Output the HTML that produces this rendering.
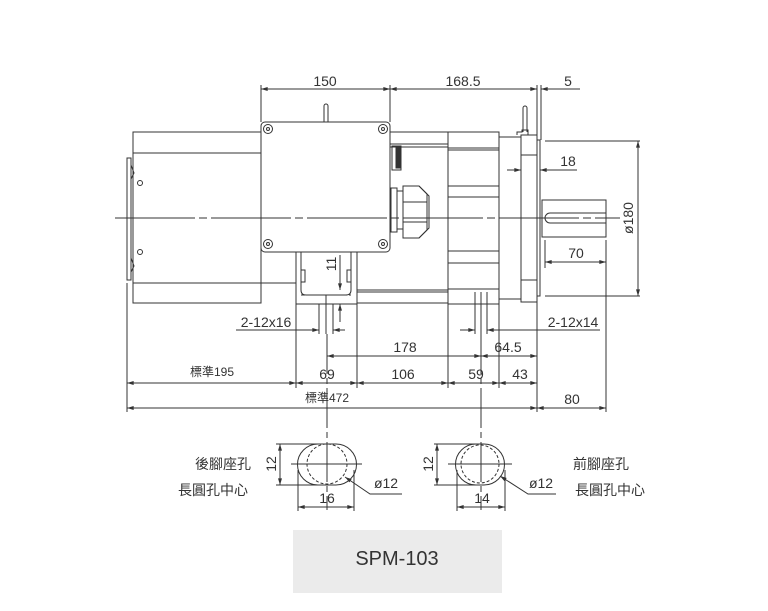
<!DOCTYPE html>
<html><head><meta charset="utf-8"><style>
html,body{margin:0;padding:0;background:#fff;}
svg{display:block;}
text{font-family:"Liberation Sans","Noto Sans CJK TC",sans-serif;fill:#333;}
</style></head><body>
<svg width="768" height="611" viewBox="0 0 768 611" xmlns="http://www.w3.org/2000/svg">
<defs>
<marker id="a" viewBox="0 0 10 6" refX="10" refY="3" markerWidth="7" markerHeight="4" orient="auto-start-reverse"><path d="M0,0L10,3L0,6z" fill="#333"/></marker>
</defs>
<g stroke="#333" stroke-width="1" fill="none">
<rect x="133" y="132" width="128" height="171"/>
<line x1="133" y1="153" x2="261" y2="153"/>
<line x1="133" y1="283" x2="296" y2="283"/>
<rect x="127" y="158" width="4" height="122"/>
<path d="M131,165 l3,8 l-3,6 M131,258 l3,8 l-3,6"/>
<circle cx="140" cy="183" r="2.5"/><circle cx="140" cy="252" r="2.5"/>
<line x1="390" y1="132" x2="448" y2="132"/><line x1="357" y1="303" x2="448" y2="303"/>
<line x1="357" y1="290" x2="448" y2="290"/><line x1="357" y1="292" x2="448" y2="292"/>
<line x1="390" y1="144" x2="448" y2="144"/><line x1="390" y1="147" x2="448" y2="147"/>
<rect x="261" y="122" width="129" height="130" rx="4" fill="#fff"/>
<g><circle cx="268" cy="129" r="4.5"/><circle cx="268" cy="129" r="1.5"/>
<circle cx="383" cy="129" r="4.5"/><circle cx="383" cy="129" r="1.5"/>
<circle cx="268" cy="244" r="4.5"/><circle cx="268" cy="244" r="1.5"/>
<circle cx="383" cy="244" r="4.5"/><circle cx="383" cy="244" r="1.5"/></g>
<path d="M324,122 V106 a2,2 0 0 1 4,0 V122"/>
<rect x="392" y="146" width="9" height="24"/>
<rect x="396" y="148" width="5" height="20" fill="#333"/>
<rect x="391" y="188" width="6" height="44"/>
<rect x="397" y="191" width="6" height="38"/>
<path d="M403,186 h16 l8,8 v36 l-8,8 h-16z"/>
<path d="M419,186 l10,10 v32 l-10,10"/>
<line x1="403" y1="202" x2="427" y2="202"/><line x1="403" y1="222" x2="427" y2="222"/>
<rect x="296" y="252" width="61" height="52"/>
<path d="M301,252 v38 q0,5 5,5 h40 q5,0 5,-5 v-38"/>
<path d="M301,270 h4 v12 h-4 M351,270 h-4 v12 h4"/>
<line x1="301" y1="295" x2="351" y2="295" stroke-dasharray="4 2"/>
<rect x="448" y="132" width="51" height="172"/>
<line x1="448" y1="148" x2="499" y2="148"/><line x1="448" y1="150" x2="499" y2="150"/>
<line x1="448" y1="186" x2="499" y2="186"/><line x1="448" y1="197" x2="499" y2="197"/>
<line x1="448" y1="251" x2="499" y2="251"/><line x1="448" y1="263" x2="499" y2="263"/>
<line x1="448" y1="289" x2="499" y2="289"/>
<rect x="499" y="137" width="22" height="162"/>
<rect x="521" y="135" width="16" height="167"/>
<line x1="521" y1="155" x2="537" y2="155"/><line x1="521" y1="280" x2="537" y2="280"/>
<rect x="537" y="140" width="3" height="156"/>
<path d="M517,135 v-3 h5 v-2 h6 v5"/>
<path d="M523,132 V108 a2,2 0 0 1 4,0 V132"/>
<rect x="542" y="200" width="64" height="37"/>
<path d="M606,213 H550 a5,5 0 0 0 0,10 H606"/>
<path d="M115,218 H620" stroke-dasharray="80 4 8 4"/>
<line x1="261" y1="85" x2="261" y2="122"/><line x1="390" y1="85" x2="390" y2="122"/>
<line x1="537" y1="85" x2="537" y2="135"/><line x1="541" y1="85" x2="541" y2="140"/>
<line x1="261" y1="89" x2="390" y2="89" marker-start="url(#a)" marker-end="url(#a)"/>
<line x1="390" y1="89" x2="537" y2="89" marker-start="url(#a)" marker-end="url(#a)"/>
<line x1="541" y1="89" x2="580" y2="89" marker-start="url(#a)"/>
<line x1="507" y1="170" x2="521" y2="170" marker-end="url(#a)"/>
<line x1="540" y1="170" x2="577" y2="170" marker-start="url(#a)"/>
<line x1="545" y1="141" x2="640" y2="141"/><line x1="545" y1="296" x2="640" y2="296"/>
<line x1="638" y1="141" x2="638" y2="296" marker-start="url(#a)" marker-end="url(#a)"/>
<line x1="545" y1="240" x2="545" y2="268"/><line x1="606" y1="240" x2="606" y2="412"/>
<line x1="545" y1="262" x2="606" y2="262" marker-start="url(#a)" marker-end="url(#a)"/>
<line x1="340" y1="255" x2="340" y2="290" marker-end="url(#a)"/>
<line x1="340" y1="304" x2="340" y2="322" marker-start="url(#a)"/>
<line x1="127" y1="283" x2="127" y2="412"/>
<line x1="296" y1="304" x2="296" y2="388"/><line x1="357" y1="304" x2="357" y2="388"/>
<line x1="319" y1="304" x2="319" y2="334"/><line x1="333" y1="304" x2="333" y2="334"/>
<line x1="326" y1="295" x2="326" y2="334"/>
<line x1="448" y1="304" x2="448" y2="388"/><line x1="499" y1="304" x2="499" y2="388"/>
<line x1="475" y1="292" x2="475" y2="334"/><line x1="487" y1="292" x2="487" y2="334"/>
<line x1="481" y1="292" x2="481" y2="334"/>
<line x1="537" y1="302" x2="537" y2="412"/>
<line x1="236" y1="330" x2="319" y2="330" marker-end="url(#a)"/>
<line x1="333" y1="330" x2="345" y2="330" marker-start="url(#a)"/>
<line x1="460" y1="330" x2="475" y2="330" marker-end="url(#a)"/>
<line x1="487" y1="330" x2="600" y2="330" marker-start="url(#a)"/>
<line x1="327" y1="356" x2="481" y2="356" marker-start="url(#a)" marker-end="url(#a)"/>
<line x1="481" y1="356" x2="537" y2="356" marker-start="url(#a)" marker-end="url(#a)"/>
<line x1="127" y1="383" x2="296" y2="383" marker-start="url(#a)" marker-end="url(#a)"/>
<line x1="296" y1="383" x2="357" y2="383" marker-start="url(#a)" marker-end="url(#a)"/>
<line x1="357" y1="383" x2="448" y2="383" marker-start="url(#a)" marker-end="url(#a)"/>
<line x1="448" y1="383" x2="499" y2="383" marker-start="url(#a)" marker-end="url(#a)"/>
<line x1="499" y1="383" x2="537" y2="383" marker-start="url(#a)" marker-end="url(#a)"/>
<line x1="127" y1="408" x2="537" y2="408" marker-start="url(#a)" marker-end="url(#a)"/>
<line x1="537" y1="408" x2="606" y2="408" marker-start="url(#a)" marker-end="url(#a)"/>
<path d="M327,334 V510" stroke-dasharray="40 4 6 4"/>
<path d="M481,334 V510" stroke-dasharray="40 4 6 4"/>
<path d="M318,444 h18 a20.5,20.5 0 0 1 0,41 h-18 a20.5,20.5 0 0 1 0,-41z"/>
<circle cx="327" cy="464" r="20" stroke-dasharray="3 2"/>
<line x1="291" y1="464" x2="362" y2="464"/>
<line x1="276" y1="444" x2="318" y2="444"/><line x1="276" y1="485" x2="318" y2="485"/>
<line x1="280" y1="444" x2="280" y2="485" marker-start="url(#a)" marker-end="url(#a)"/>
<line x1="298" y1="470" x2="298" y2="511"/><line x1="354" y1="470" x2="354" y2="511"/>
<line x1="298" y1="507" x2="354" y2="507" marker-start="url(#a)" marker-end="url(#a)"/>
<polyline points="402,494 370,494 345,477" marker-end="url(#a)"/>
<path d="M476,444 h8 a20.5,20.5 0 0 1 0,41 h-8 a20.5,20.5 0 0 1 0,-41z"/>
<circle cx="480" cy="464" r="19" stroke-dasharray="3 2"/>
<line x1="448" y1="464" x2="512" y2="464"/>
<line x1="434" y1="444" x2="476" y2="444"/><line x1="434" y1="485" x2="476" y2="485"/>
<line x1="437" y1="444" x2="437" y2="485" marker-start="url(#a)" marker-end="url(#a)"/>
<line x1="457" y1="470" x2="457" y2="511"/><line x1="505" y1="470" x2="505" y2="511"/>
<line x1="457" y1="507" x2="505" y2="507" marker-start="url(#a)" marker-end="url(#a)"/>
<polyline points="556,494 528,494 500,476" marker-end="url(#a)"/>
</g>
<g font-size="14" text-anchor="middle">
<text x="325" y="86">150</text>
<text x="463" y="86">168.5</text>
<text x="568" y="86">5</text>
<text x="568" y="166">18</text>
<text x="576" y="258">70</text>
<text transform="translate(633,218) rotate(-90)">ø180</text>
<text transform="translate(336,264) rotate(-90)">11</text>
<text x="266" y="327">2-12x16</text>
<text x="573" y="327">2-12x14</text>
<text x="405" y="352">178</text>
<text x="508" y="352">64.5</text>
<text x="212" y="376" font-size="12">標準195</text>
<text x="327" y="379">69</text>
<text x="403" y="379">106</text>
<text x="476" y="379">59</text>
<text x="520" y="379">43</text>
<text x="327" y="402" font-size="12">標準472</text>
<text x="572" y="404">80</text>
<text transform="translate(276,464) rotate(-90)">12</text>
<text transform="translate(433,464) rotate(-90)">12</text>
<text x="327" y="503">16</text>
<text x="482" y="503">14</text>
<text x="386" y="488">ø12</text>
<text x="541" y="488">ø12</text>
<text x="223" y="469">後腳座孔</text>
<text x="213" y="495">長圓孔中心</text>
<text x="601" y="469">前腳座孔</text>
<text x="610" y="495">長圓孔中心</text>
</g>
<rect x="293" y="530" width="209" height="63" fill="#ebebeb"/>
<text x="397" y="565" font-size="20" text-anchor="middle">SPM-103</text>
</svg>
</body></html>
